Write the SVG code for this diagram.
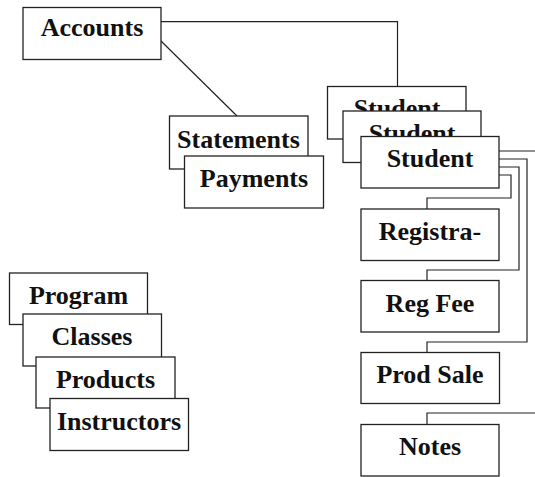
<svg xmlns="http://www.w3.org/2000/svg" width="535" height="477" viewBox="0 0 535 477">
<style>
.box rect{fill:#fff;stroke:#222;stroke-width:1.3}
.box text{font-family:"Liberation Serif","Times New Roman",serif;font-weight:bold;font-size:26px;text-anchor:middle;fill:#111}
#connectors path{fill:none;stroke:#222;stroke-width:1.2}
</style>
<rect width="535" height="477" fill="#fff"/>
<g id="connectors">
<path d="M161,21.7 H397.5 V86.5"/>
<path d="M161,41 L237,116"/>
<path d="M499,151 H535"/>
<path d="M499,159 H527 V342 H427 V352.5"/>
<path d="M499,167 H519 V270 H427 V280.5"/>
<path d="M499,175 H511 V198 H427 V209"/>
<path d="M535,413 H427 V424.5"/>
</g>
<g id="accounts" class="box"><rect x="23" y="7.5" width="138" height="52"/><text x="92" y="35.5">Accounts</text></g>
<g id="statements" class="box"><rect x="169.5" y="116" width="138.5" height="53"/><text x="238.5" y="148">Statements</text></g>
<g id="payments" class="box"><rect x="184.5" y="156" width="139" height="52"/><text x="254" y="186.5">Payments</text></g>
<g id="student1" class="box"><rect x="327.5" y="86.5" width="138.5" height="52.5"/><text x="397" y="117">Student</text></g>
<g id="student2" class="box"><rect x="343" y="111" width="138" height="51.5"/><text x="412" y="141.5">Student</text></g>
<g id="student3" class="box"><rect x="361" y="136.5" width="138" height="51.5"/><text x="430" y="167">Student</text></g>
<g id="registration" class="box"><rect x="361" y="209" width="138" height="51.5"/><text x="430" y="240">Registra-</text></g>
<g id="regfee" class="box"><rect x="361" y="280.5" width="138" height="51.5"/><text x="430" y="311.5">Reg Fee</text></g>
<g id="prodsale" class="box"><rect x="361" y="352.5" width="138.5" height="51"/><text x="430" y="383">Prod Sale</text></g>
<g id="notes" class="box"><rect x="361" y="424.5" width="138" height="51.5"/><text x="430" y="455">Notes</text></g>
<g id="program" class="box"><rect x="9.5" y="273" width="138" height="51.5"/><text x="78.5" y="304">Program</text></g>
<g id="classes" class="box"><rect x="23" y="314" width="138.5" height="52"/><text x="92" y="345">Classes</text></g>
<g id="products" class="box"><rect x="36" y="357" width="139" height="51"/><text x="105.5" y="387.5">Products</text></g>
<g id="instructors" class="box"><rect x="50" y="398.5" width="138.5" height="52"/><text x="119" y="430">Instructors</text></g>
</svg>
